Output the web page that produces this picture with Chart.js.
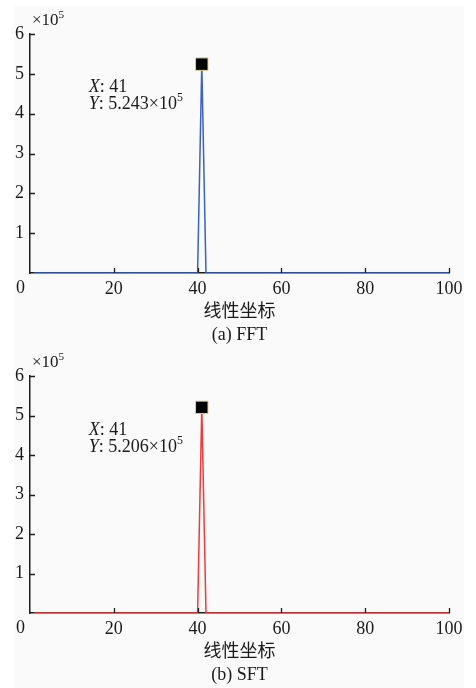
<!DOCTYPE html>
<html>
<head>
<meta charset="utf-8">
<script src="https://cdn.jsdelivr.net/npm/chart.js@4.4.1/dist/chart.umd.min.js"></script>
<style>
	html, body { margin: 0; padding: 0; background: #ffffff; }
	#page { position: relative; width: 476px; height: 688px; overflow: hidden; }
	#panel { position: absolute; left: 14px; top: 6px; width: 450px; height: 682px; background: #fafafa; }
	canvas { position: absolute; left: 0; }
	#chart-fft { top: 0; }
	#chart-sft { top: 340px; }
</style>
</head>
<body>
<div id="page">
	<div id="panel"></div>
	<canvas id="chart-fft" width="476" height="360"></canvas>
	<canvas id="chart-sft" width="476" height="348"></canvas>
</div>
<script>
// frequency bins (linear axis)
var bins = [
	1, 2, 3, 4, 5, 6, 7, 8, 9, 10, 11, 12, 13, 14, 15, 16, 17, 18, 19, 20,
	21, 22, 23, 24, 25, 26, 27, 28, 29, 30, 31, 32, 33, 34, 35, 36, 37, 38, 39, 40,
	41, 42, 43, 44, 45, 46, 47, 48, 49, 50, 51, 52, 53, 54, 55, 56, 57, 58, 59, 60,
	61, 62, 63, 64, 65, 66, 67, 68, 69, 70, 71, 72, 73, 74, 75, 76, 77, 78, 79, 80,
	81, 82, 83, 84, 85, 86, 87, 88, 89, 90, 91, 92, 93, 94, 95, 96, 97, 98, 99, 100
];

// magnitude, in units of 10^5
var fftMagnitude = [
	0, 0, 0, 0, 0, 0, 0, 0, 0, 0, 0, 0, 0, 0, 0, 0, 0, 0, 0, 0,
	0, 0, 0, 0, 0, 0, 0, 0, 0, 0, 0, 0, 0, 0, 0, 0, 0, 0, 0, 0,
	5.243, 0, 0, 0, 0, 0, 0, 0, 0, 0, 0, 0, 0, 0, 0, 0, 0, 0, 0, 0,
	0, 0, 0, 0, 0, 0, 0, 0, 0, 0, 0, 0, 0, 0, 0, 0, 0, 0, 0, 0,
	0, 0, 0, 0, 0, 0, 0, 0, 0, 0, 0, 0, 0, 0, 0, 0, 0, 0, 0, 0
];

var sftMagnitude = [
	0, 0, 0, 0, 0, 0, 0, 0, 0, 0, 0, 0, 0, 0, 0, 0, 0, 0, 0, 0,
	0, 0, 0, 0, 0, 0, 0, 0, 0, 0, 0, 0, 0, 0, 0, 0, 0, 0, 0, 0,
	5.206, 0, 0, 0, 0, 0, 0, 0, 0, 0, 0, 0, 0, 0, 0, 0, 0, 0, 0, 0,
	0, 0, 0, 0, 0, 0, 0, 0, 0, 0, 0, 0, 0, 0, 0, 0, 0, 0, 0, 0,
	0, 0, 0, 0, 0, 0, 0, 0, 0, 0, 0, 0, 0, 0, 0, 0, 0, 0, 0, 0
];

var xTicks = [0, 20, 40, 60, 80, 100];
var yTicks = [0, 1, 2, 3, 4, 5, 6];
var xAxisName = "线性坐标";

var serif = "'Liberation Serif', 'Times New Roman', 'Noto Sans CJK SC', serif";
var axisColor = "#1e1e1e";
var textSize = 18;

function peakIndex(values)
{
	let best = 0;
	for (let i = 1; i < values.length; i++)
	{
		if (values[i] > values[best]) best = i;
	}
	return best;
}

// text pieces: [text, italic, superscript]
function drawPieces(ctx, pieces, x, y, size)
{
	let cx = x;
	pieces.forEach(function(p)
	{
		let fs = p[2] ? size * 0.66 : size;
		ctx.font = (p[1] ? "italic " : "") + fs + "px " + serif;
		ctx.fillText(p[0], cx, p[2] ? y - size * 0.36 : y);
		cx += ctx.measureText(p[0]).width;
	});
}

// inward ticks, exponent, axis name, caption and the data tip
var decorations = {
	id: "decorations",
	afterDraw: function(chart, args, opts)
	{
		let ctx = chart.ctx;
		let area = chart.chartArea;
		let xs = chart.scales.x;
		let ys = chart.scales.y;

		ctx.save();
		ctx.strokeStyle = axisColor;
		ctx.lineWidth = 1.3;
		ctx.beginPath();
		xTicks.forEach(function(v)
		{
			if (v === 0) return;
			let px = Math.round(xs.getPixelForValue(v)) + 0.5;
			ctx.moveTo(px, area.bottom);
			ctx.lineTo(px, area.bottom - 5);
		});
		yTicks.forEach(function(v)
		{
			if (v === 0) return;
			let py = Math.round(ys.getPixelForValue(v)) + 0.5;
			ctx.moveTo(area.left, py);
			ctx.lineTo(area.left + 5, py);
		});
		ctx.stroke();

		ctx.fillStyle = "#1a1a1a";
		ctx.textBaseline = "middle";

		// shared origin label
		ctx.font = textSize + "px " + serif;
		ctx.textAlign = "right";
		ctx.fillText("0", area.left - 5, area.bottom + 15);

		// exponent above the y axis
		ctx.textAlign = "left";
		drawPieces(ctx, [["×10", false, false], ["5", false, true]], area.left + 2, area.top - 13, 17);

		// axis name and caption
		ctx.textAlign = "center";
		ctx.font = textSize + "px " + serif;
		ctx.fillText(xAxisName, (area.left + area.right) / 2, area.bottom + 39);
		ctx.fillText(opts.caption, (area.left + area.right) / 2, area.bottom + 62);

		// data tip next to the peak
		let values = chart.data.datasets[0].data;
		let k = peakIndex(values.map(function(d) { return d.y; }));
		let px = xs.getPixelForValue(values[k].x);
		let py = ys.getPixelForValue(values[k].y);
		ctx.textAlign = "left";
		drawPieces(ctx, [["X", true, false], [": " + values[k].x, false, false]], px - 113, py + 23, textSize);
		drawPieces(ctx, [["Y", true, false], [": " + values[k].y.toFixed(3) + "×10", false, false], ["5", false, true]], px - 113, py + 40, textSize);
		ctx.restore();
	}
};

function CreateSpectrumChart(canvasId, values, lineColor, caption, topPadding, bottomSpace)
{
	let points = bins.map(function(b, i) { return { x: b, y: values[i] }; });
	let peak = peakIndex(values);

	return new Chart(canvasId, {
		type: "line",
		data: {
			datasets: [{
				data: points,
				borderColor: lineColor,
				borderWidth: 1.5,
				tension: 0,
				pointStyle: "rect",
				pointRadius: function(c) { return c.dataIndex === peak ? 8.8 : 0; },
				pointBackgroundColor: "#000000",
				pointBorderColor: "#d9cf9c",
				pointBorderWidth: 1
			}]
		},
		options: {
			responsive: false,
			animation: false,
			devicePixelRatio: 1,
			layout: { padding: { top: topPadding, right: 27, left: 0, bottom: 0 } },
			plugins: {
				legend: { display: false },
				tooltip: { enabled: false },
				decorations: { caption: caption }
			},
			scales: {
				x: {
					type: "linear",
					min: 0,
					max: 100,
					afterBuildTicks: function(s) { s.ticks = xTicks.map(function(v) { return { value: v }; }); },
					afterFit: function(s) { s.height = bottomSpace; },
					ticks: {
						callback: function(v) { return v === 0 ? "" : v; },
						font: { family: serif, size: textSize },
						color: "#1a1a1a",
						padding: 5,
						maxRotation: 0,
						autoSkip: false
					},
					grid: { display: true, drawOnChartArea: false, drawTicks: false },
					border: { display: true, color: axisColor, width: 1.5 }
				},
				y: {
					min: 0,
					max: 6,
					afterBuildTicks: function(s) { s.ticks = yTicks.map(function(v) { return { value: v }; }); },
					afterFit: function(s) { s.width = 30; },
					ticks: {
						callback: function(v) { return v === 0 ? "" : v; },
						font: { family: serif, size: textSize },
						color: "#1a1a1a",
						padding: 6
					},
					grid: { display: true, drawOnChartArea: false, drawTicks: false },
					border: { display: true, color: axisColor, width: 1.5 }
				}
			}
		},
		plugins: [decorations]
	});
}

CreateSpectrumChart("chart-fft", fftMagnitude, "#3a62c0", "(a) FFT", 34, 87);
CreateSpectrumChart("chart-sft", sftMagnitude, "#ee3b3b", "(b) SFT", 36, 75);
</script>
</body>
</html>
